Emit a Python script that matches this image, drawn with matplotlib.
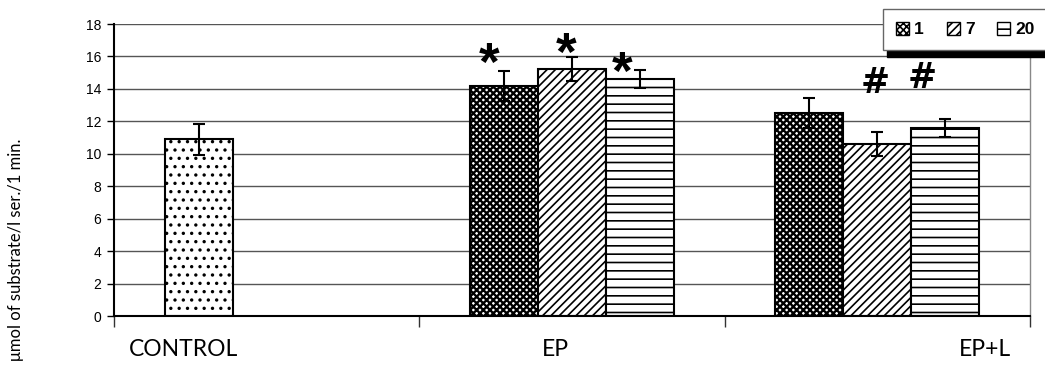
import matplotlib.pyplot as plt
import numpy as np

plt.rcParams['hatch.color'] = 'black'
plt.rcParams['hatch.linewidth'] = 1.2

# Data
groups = ['CONTROL', 'EP', 'EP+L']
series = ['1', '7', '20']

control_val = 10.9
control_err = 0.95

ep_vals = [14.2, 15.2, 14.6]
ep_errs = [0.93, 0.74, 0.54]

epl_vals = [12.5, 10.6, 11.6]
epl_errs = [0.92, 0.75, 0.56]

y_ticks = [0, 2, 4, 6, 8, 10, 12, 14, 16, 18]
y_label = 'μmol of substrate/l ser./1 min.'

hatches = {'1': 'xxxxx', '7': '////', '20': '--'}

# annotation spots (centre of the sign, in value units)
star_y = [16.0, 16.6, 15.4]
star_dx = [-0.05, -0.02, -0.06]
hash_y = [14.35, 14.65]
hash_dx = [-0.008, -0.075]

width = 0.223
fig = plt.figure(figsize=(10.45, 3.7), dpi=100)
ax = fig.add_axes([114 / 1045, 1 - 316 / 370, (1030 - 114) / 1045, (316 - 24) / 370])

ax.set_axisbelow(True)
ax.yaxis.grid(True, color='#555555', linewidth=1)

bar_kw = dict(width=width, color='white', edgecolor='black', linewidth=1.5)
err_kw = dict(ecolor='black', elinewidth=1.5, capsize=4.5, capthick=1.5)

# control bar
ax.bar(0 - width, control_val, hatch='..', yerr=control_err, error_kw=err_kw, **bar_kw)

offsets = np.array([-width, 0, width])
handles = []
for i, s in enumerate(series):
    h = ax.bar([1 + offsets[i], 2 + offsets[i]], [ep_vals[i], epl_vals[i]],
               hatch=hatches[s], yerr=[ep_errs[i], epl_errs[i]], error_kw=err_kw,
               label=s, **bar_kw)
    if s == '1':
        for p in h.patches:
            try:
                p.set_hatch_linewidth(1.7)
            except AttributeError:
                pass
    handles.append(h)

# significance marks
for i in range(3):
    ax.text(1 + offsets[i] + star_dx[i], star_y[i] - 2.1, '*',
            ha='center', va='bottom', fontsize=38, fontweight='bold',
            family='Liberation Sans', zorder=5)
for k, i in enumerate([1, 2]):
    ax.text(2 + offsets[i] + hash_dx[k], hash_y[k], '#', ha='center', va='center',
            fontsize=25, fontweight='bold', family='DejaVu Sans', zorder=5)

ax.set_xlim(-0.5, 2.5)
ax.set_ylim(0, 18)
ax.set_yticks(y_ticks)
ax.set_yticklabels([str(v) for v in y_ticks], fontsize=10, family='Liberation Sans')
ax.set_xticks([-0.5, 0.5, 1.5, 2.5])
ax.set_xticklabels([])
ax.tick_params(axis='x', length=8, width=1, color='#333333')
ax.tick_params(axis='y', length=5, width=1, pad=4)

ax.spines['top'].set_visible(False)
ax.spines['left'].set_linewidth(1.5)
ax.spines['bottom'].set_linewidth(1.5)
ax.spines['right'].set_color('#888888')
ax.spines['right'].set_linewidth(1)

# group labels
label_x = [183, 555, 985]
for g, xp in zip(groups, label_x):
    fig.text(xp / 1045, 1 - 350 / 370, g, ha='center', va='center',
             fontsize=16.5, family='Lato')

fig.text(16 / 1045, 1 - 139 / 370, y_label, rotation=90, ha='center', va='top',
         fontsize=12, family='Lato')

leg = ax.legend(handles=handles, ncol=3, loc='upper left',
                bbox_to_anchor=(883 / 1045, 1 - 9 / 370),
                bbox_transform=fig.transFigure, borderaxespad=0,
                prop={'family': 'Liberation Sans', 'weight': 'bold', 'size': 12.5},
                handlelength=0.75, handleheight=0.75, handletextpad=0.3, columnspacing=1.3,
                borderpad=0.75, fancybox=False, edgecolor='#666666', framealpha=1,
                shadow={'color': 'black', 'alpha': 1, 'ox': 3, 'oy': -5})
leg.get_frame().set_linewidth(1)
for p in leg.get_patches():
    p.set_linewidth(1)

fig.savefig('out.png', dpi=100)
